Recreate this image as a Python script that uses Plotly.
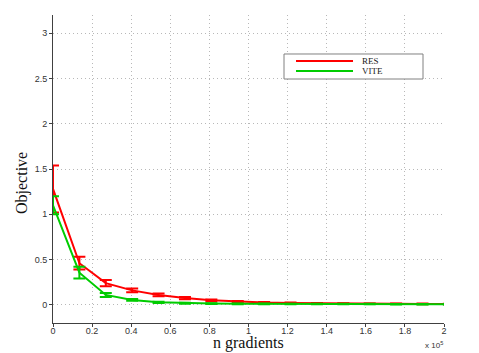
import plotly.graph_objects as go

n_gradients = [0, 13500, 27000, 40500, 54000, 67500, 81000, 94500, 108000, 121500,
               135000, 148500, 162000, 175500, 189000, 202500]
res_mean = [1.28, 0.46, 0.24, 0.16, 0.11, 0.075, 0.05, 0.035, 0.027, 0.022,
            0.018, 0.015, 0.013, 0.012, 0.011, 0.01]
res_err = [0.26, 0.07, 0.035, 0.02, 0.015, 0.012, 0.01, 0.008, 0.006, 0.005,
           0.004, 0.004, 0.003, 0.003, 0.003, 0.003]
vite_mean = [1.10, 0.355, 0.11, 0.055, 0.028, 0.018, 0.014, 0.012, 0.011, 0.01,
             0.01, 0.009, 0.009, 0.008, 0.008, 0.008]
vite_err = [0.10, 0.065, 0.022, 0.01, 0.006, 0.005, 0.004, 0.004, 0.003, 0.003,
            0.003, 0.003, 0.003, 0.003, 0.003, 0.003]

series_names = ["RES", "VITE"]
x_tickvals = [0, 20000, 40000, 60000, 80000, 100000, 120000, 140000, 160000, 180000, 200000]
x_ticktext = ["0", "0.2", "0.4", "0.6", "0.8", "1", "1.2", "1.4", "1.6", "1.8", "2"]
y_tickvals = [0, 0.5, 1, 1.5, 2, 2.5, 3]
y_ticktext = ["0", "0.5", "1", "1.5", "2", "2.5", "3"]

RED = "#ff0000"
GREEN = "#00cc00"
SERIF = "Liberation Serif, Times New Roman, serif"
SANS = "Liberation Sans, Arial, sans-serif"

fig = go.Figure()
fig.add_trace(go.Scatter(
    x=n_gradients, y=res_mean, mode="lines", name=series_names[0],
    line=dict(color=RED, width=2),
    error_y=dict(type="data", array=res_err, visible=True, color=RED, thickness=2, width=6),
))
fig.add_trace(go.Scatter(
    x=n_gradients, y=vite_mean, mode="lines", name=series_names[1],
    line=dict(color=GREEN, width=2),
    error_y=dict(type="data", array=vite_err, visible=True, color=GREEN, thickness=2, width=6),
))

axis_common = dict(
    showgrid=True, gridcolor="#b8b8b8", griddash="1px,3px", gridwidth=1,
    showline=True, linecolor="#404040", linewidth=1,
    ticks="outside", ticklen=3, tickcolor="#404040",
    tickfont=dict(family=SANS, size=9, color="#333333"),
    zeroline=False, mirror=False,
)

# manual legend (paper coordinates of the plot area)
shapes = [
    dict(type="rect", xref="paper", yref="paper", x0=0.5908, x1=0.9463, y0=0.7922, y1=0.8734,
         line=dict(color="#808080", width=1), fillcolor="white", layer="above"),
    dict(type="line", xref="paper", yref="paper", x0=0.6215, x1=0.7673, y0=0.8506, y1=0.8506,
         line=dict(color=RED, width=2), layer="above"),
    dict(type="line", xref="paper", yref="paper", x0=0.6215, x1=0.7673, y0=0.8182, y1=0.8182,
         line=dict(color=GREEN, width=2), layer="above"),
]

annotations = [
    dict(text=series_names[0], xref="paper", yref="paper", x=0.7852, y=0.8506,
         xanchor="left", yanchor="middle", showarrow=False,
         font=dict(family=SERIF, size=9, color="#222222")),
    dict(text=series_names[1], xref="paper", yref="paper", x=0.7852, y=0.8182,
         xanchor="left", yanchor="middle", showarrow=False,
         font=dict(family=SERIF, size=9, color="#222222")),
    dict(text="n gradients", xref="paper", yref="paper", x=0.5, y=-0.030,
         xanchor="center", yanchor="top", showarrow=False,
         font=dict(family=SERIF, size=16, color="#111111")),
    dict(text="Objective", xref="paper", yref="paper", x=-0.0512, y=0.4545,
         xanchor="right", yanchor="middle", textangle=-90, showarrow=False,
         font=dict(family=SERIF, size=16, color="#111111")),
    dict(text="x 10<sup>5</sup>", xref="paper", yref="paper", x=1.0026, y=-0.048,
         xanchor="right", yanchor="top", showarrow=False,
         font=dict(family=SANS, size=8, color="#333333")),
]

fig.update_layout(
    width=471, height=345,
    paper_bgcolor="white", plot_bgcolor="white",
    margin=dict(l=45, r=35, t=7, b=30),
    showlegend=False,
    xaxis=dict(range=[0, 200000], tickvals=x_tickvals, ticktext=x_ticktext,
               ticklabelstandoff=-4, **axis_common),
    yaxis=dict(range=[-0.2, 3.2], tickvals=y_tickvals, ticktext=y_ticktext, **axis_common),
    shapes=shapes,
    annotations=annotations,
)

fig.write_html("out.html")
